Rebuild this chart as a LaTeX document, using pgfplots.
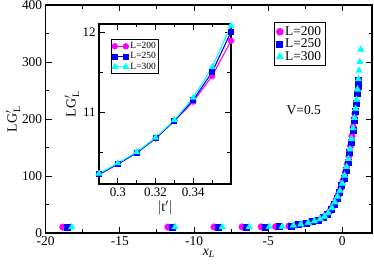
\documentclass[border=0pt]{standalone}
\usepackage{pgfplots}
\pgfplotsset{compat=1.18}
\usepackage{fontspec}
\setmainfont{Liberation Serif}
\definecolor{mmag}{RGB}{255,0,255}
\definecolor{mblue}{RGB}{0,0,255}
\definecolor{mcyan}{RGB}{0,255,255}
\begin{document}
\begin{tikzpicture}[x=1bp,y=1bp]
\path[use as bounding box] (0,0) rectangle (374,265);
\begin{axis}[
  at={(45.7bp,32bp)}, anchor=south west, scale only axis,
  width=326.3bp, height=228bp,
  xmin=-20, xmax=2, ymin=0, ymax=400,
  xtick={-20,-15,-10,-5,0}, ytick={0,100,200,300,400},
  minor x tick num=1, minor y tick num=1,
  tick align=inside,
  major tick length=6bp, minor tick length=3.5bp,
  axis line style={line width=1.2bp},
  every tick/.append style={line width=0.9bp, black},
  /pgf/number format/assume math mode=true,
  tick label style={font=\fontsize{13.5}{15}\selectfont},
  xlabel={$\mathit{x}_{\mathit{L}}$},
  xlabel style={at={(axis description cs:0.5,-0.088)}, anchor=center, font=\fontsize{14}{16}\selectfont},
  ylabel={LG$'_{\,\mathrm{L}}$},
  ylabel style={at={(axis description cs:-0.1,0.5)}, anchor=center, rotate=0, font=\fontsize{14}{16}\selectfont},
  legend style={at={(0.70,0.925)}, anchor=north west, draw=black, line width=0.9bp,
    font=\fontsize{13.5}{13.5}\selectfont, inner sep=2bp, row sep=-2bp,
    /tikz/every even column/.append style={column sep=4bp}},
  legend image code/.code={\draw[#1] plot coordinates {(4bp,0bp)};},
  legend cell align=left,
  clip=false,
]
\addplot[only marks, mark=*, mark size=3.3bp, color=mmag] coordinates {
(-18.85,10.3) (-11.76,10.4) (-8.65,10.5) (-6.76,10.6) (-5.47,10.8) (-4.5,11.1)
(-3.6,12.2) (-3.1,14) (-2.6,16.5) (-2.15,19.2) (-1.75,22) (-1.4,26) (-1.1,31)
(-0.85,38) (-0.62,48) (-0.42,58) (-0.25,68) (-0.1,79) (0.05,92) (0.2,106)
(0.33,121) (0.45,135) (0.56,153) (0.65,170) (0.73,186) (0.8,200) (0.85,210)
};
\addlegendentry{L=200}
\addplot[only marks, mark=square*, mark size=3.0bp, color=mblue] coordinates {
(-18.55,10.3) (-11.5,10.4) (-8.4,10.5) (-6.5,10.6) (-5.2,10.8) (-4.28,11.1)
(-3.45,12.6) (-2.95,14.6) (-2.45,17.2) (-2.0,20) (-1.62,23) (-1.3,27.5) (-1.02,33)
(-0.78,41) (-0.56,51) (-0.37,61) (-0.2,71) (-0.05,83) (0.1,97) (0.24,110)
(0.37,125) (0.49,141) (0.6,160) (0.7,180) (0.79,198) (0.87,213) (0.94,228)
(1.0,246) (1.05,258) (1.09,268)
};
\addlegendentry{L=250}
\addplot[only marks, mark=triangle*, mark size=3.8bp, color=mcyan] coordinates {
(-18.24,10.3) (-11.28,10.4) (-8.1,10.5) (-6.28,10.6) (-4.93,10.8) (-4.05,11.1)
(-3.3,13) (-2.8,15.2) (-2.3,18) (-1.88,21) (-1.5,24.5) (-1.2,29) (-0.95,35)
(-0.7,44) (-0.5,54) (-0.32,64) (-0.16,74) (0.0,87) (0.15,101) (0.29,116)
(0.41,130) (0.52,147) (0.62,165) (0.72,184) (0.81,202) (0.89,218) (0.96,234)
(1.02,252) (1.08,270) (1.13,285) (1.18,300) (1.25,322)
};
\addlegendentry{L=300}
\node[font=\fontsize{13.5}{15}\selectfont] at (axis cs:-2.6,216) {V=0.5};
\end{axis}
\begin{axis}[
  at={(99bp,81bp)}, anchor=south west, scale only axis,
  width=132bp, height=160bp,
  xmin=0.29, xmax=0.36, ymin=10.1, ymax=12.1,
  xtick={0.30,0.32,0.34}, minor xtick={0.31,0.33,0.35},
  ytick={11,12}, minor ytick={10.5,11.5},
  tick align=inside,
  major tick length=6bp, minor tick length=3.5bp,
  axis line style={line width=1.2bp},
  every tick/.append style={line width=0.9bp, black},
  axis background/.style={fill=white},
  /pgf/number format/assume math mode=true,
  tick label style={font=\fontsize{13}{15}\selectfont},
  xlabel={$|$t$'|$},
  xlabel style={at={(axis description cs:0.5,-0.15)}, anchor=center, font=\fontsize{14}{16}\selectfont},
  ylabel={LG$'_{\,\mathrm{L}}$},
  ylabel style={at={(axis description cs:-0.205,0.5)}, anchor=center, font=\fontsize{14}{16}\selectfont},
  legend style={at={(0.09,0.906)}, anchor=north west, draw=black, line width=0.8bp,
    font=\fontsize{9.5}{9.5}\selectfont, inner sep=1bp, row sep=-1.5bp},
  legend cell align=left,
  legend image code/.code={\draw[#1] plot coordinates {(0bp,0bp) (11bp,0bp)};},
  clip=false,
]
\addplot[color=mmag, line width=1.1bp, mark=*, mark size=2.6bp] coordinates {
(0.29,10.22) (0.30,10.35) (0.31,10.49) (0.32,10.67) (0.33,10.89) (0.34,11.13) (0.35,11.45) (0.36,11.89)
};
\addlegendentry{L=200}
\addplot[color=mblue, line width=1.1bp, mark=square*, mark size=2.4bp] coordinates {
(0.29,10.22) (0.30,10.35) (0.31,10.49) (0.32,10.67) (0.33,10.89) (0.34,11.15) (0.35,11.50) (0.36,12.00)
};
\addlegendentry{L=250}
\addplot[color=mcyan, line width=1.1bp, mark=triangle*, mark size=3bp] coordinates {
(0.29,10.23) (0.30,10.36) (0.31,10.50) (0.32,10.68) (0.33,10.90) (0.34,11.18) (0.35,11.56) (0.36,12.08)
};
\addlegendentry{L=300}
\end{axis}
\end{tikzpicture}
\end{document}
